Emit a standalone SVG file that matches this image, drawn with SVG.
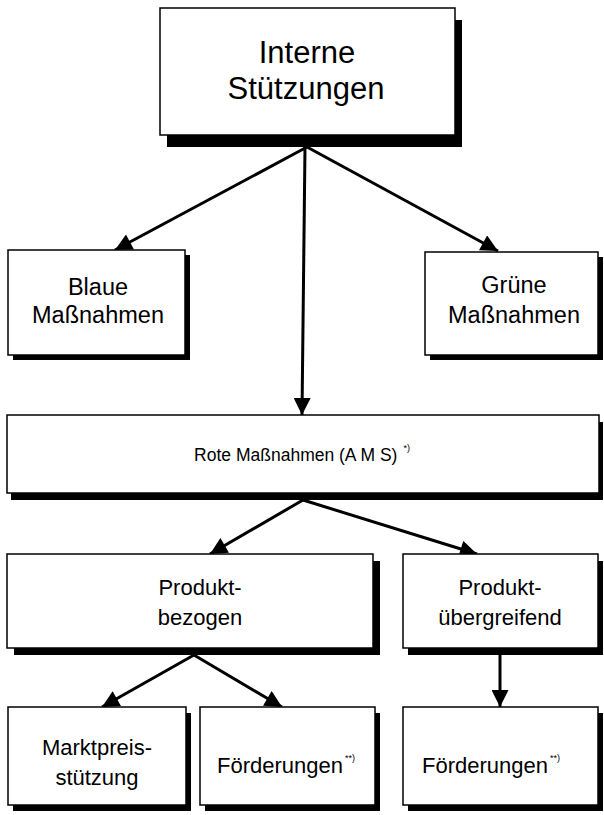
<svg xmlns="http://www.w3.org/2000/svg" width="604" height="815" viewBox="0 0 604 815">
<style>
.box{fill:#fff;stroke:#000;stroke-width:1.5}
.sh{fill:#000}
.t{font-family:"Liberation Sans",Arial,sans-serif;fill:#000;text-anchor:middle}
.sup{font-size:9px}
.conn line{stroke:#000;stroke-width:3;marker-end:url(#ah)}
</style>
<defs>
<marker id="ah" markerUnits="userSpaceOnUse" viewBox="0 0 10 10" refX="10" refY="5" markerWidth="18" markerHeight="17" orient="auto">
<path d="M0,0 L10,5 L0,10 z" fill="#000"/>
</marker>
</defs>
<rect width="604" height="815" fill="#fff"/>
<g id="connectors" class="conn">
<line x1="307" y1="147" x2="115" y2="250"/>
<line x1="307" y1="147" x2="498" y2="251"/>
<line x1="305" y1="147" x2="302" y2="415"/>
<line x1="303" y1="500" x2="210" y2="554"/>
<line x1="303" y1="500" x2="477" y2="554"/>
<line x1="194" y1="655" x2="102" y2="707"/>
<line x1="194" y1="655" x2="282" y2="707"/>
<line x1="500" y1="655" x2="500" y2="707"/>
</g>
<g id="interne">
<rect class="sh" x="167" y="20" width="295" height="127"/>
<rect class="box" x="160" y="8" width="295" height="127"/>
<text class="t" x="307" y="63" font-size="31">Interne</text>
<text class="t" x="306" y="99" font-size="31">Stützungen</text>
</g>
<g id="blaue">
<rect class="sh" x="13" y="255" width="177" height="105"/>
<rect class="box" x="8" y="250" width="177" height="105"/>
<text class="t" x="98" y="295" font-size="23.5">Blaue</text>
<text class="t" x="98" y="323" font-size="23.5">Maßnahmen</text>
</g>
<g id="gruene">
<rect class="sh" x="430" y="257" width="173" height="103"/>
<rect class="box" x="425" y="252" width="173" height="103"/>
<text class="t" x="514" y="293" font-size="23.5">Grüne</text>
<text class="t" x="514" y="323" font-size="23.5">Maßnahmen</text>
</g>
<g id="rote">
<rect class="sh" x="11" y="422" width="592" height="78"/>
<rect class="box" x="7" y="415" width="592" height="78"/>
<text class="t" x="302" y="461" font-size="17.5">Rote Maßnahmen (A M S)<tspan class="sup" dx="6" dy="-10">*)</tspan></text>
</g>
<g id="produktbezogen">
<rect class="sh" x="14" y="561" width="366" height="94"/>
<rect class="box" x="7" y="554" width="366" height="94"/>
<text class="t" x="200" y="595" font-size="22">Produkt-</text>
<text class="t" x="200" y="625" font-size="22">bezogen</text>
</g>
<g id="produktuebergreifend">
<rect class="sh" x="408" y="561" width="195" height="94"/>
<rect class="box" x="403" y="554" width="195" height="94"/>
<text class="t" x="500" y="595" font-size="22">Produkt-</text>
<text class="t" x="500" y="625" font-size="22">übergreifend</text>
</g>
<g id="marktpreis">
<rect class="sh" x="13" y="713" width="178" height="98"/>
<rect class="box" x="8" y="707" width="178" height="98"/>
<text class="t" x="97" y="755" font-size="22">Marktpreis-</text>
<text class="t" x="97" y="785" font-size="22">stützung</text>
</g>
<g id="foerderungen1">
<rect class="sh" x="205" y="713" width="175" height="98"/>
<rect class="box" x="200" y="707" width="175" height="98"/>
<text class="t" x="286" y="773" font-size="22">Förderungen<tspan class="sup" dx="2" dy="-12">**)</tspan></text>
</g>
<g id="foerderungen2">
<rect class="sh" x="408" y="713" width="195" height="98"/>
<rect class="box" x="403" y="707" width="195" height="98"/>
<text class="t" x="491" y="773" font-size="22">Förderungen<tspan class="sup" dx="2" dy="-12">**)</tspan></text>
</g>
</svg>
